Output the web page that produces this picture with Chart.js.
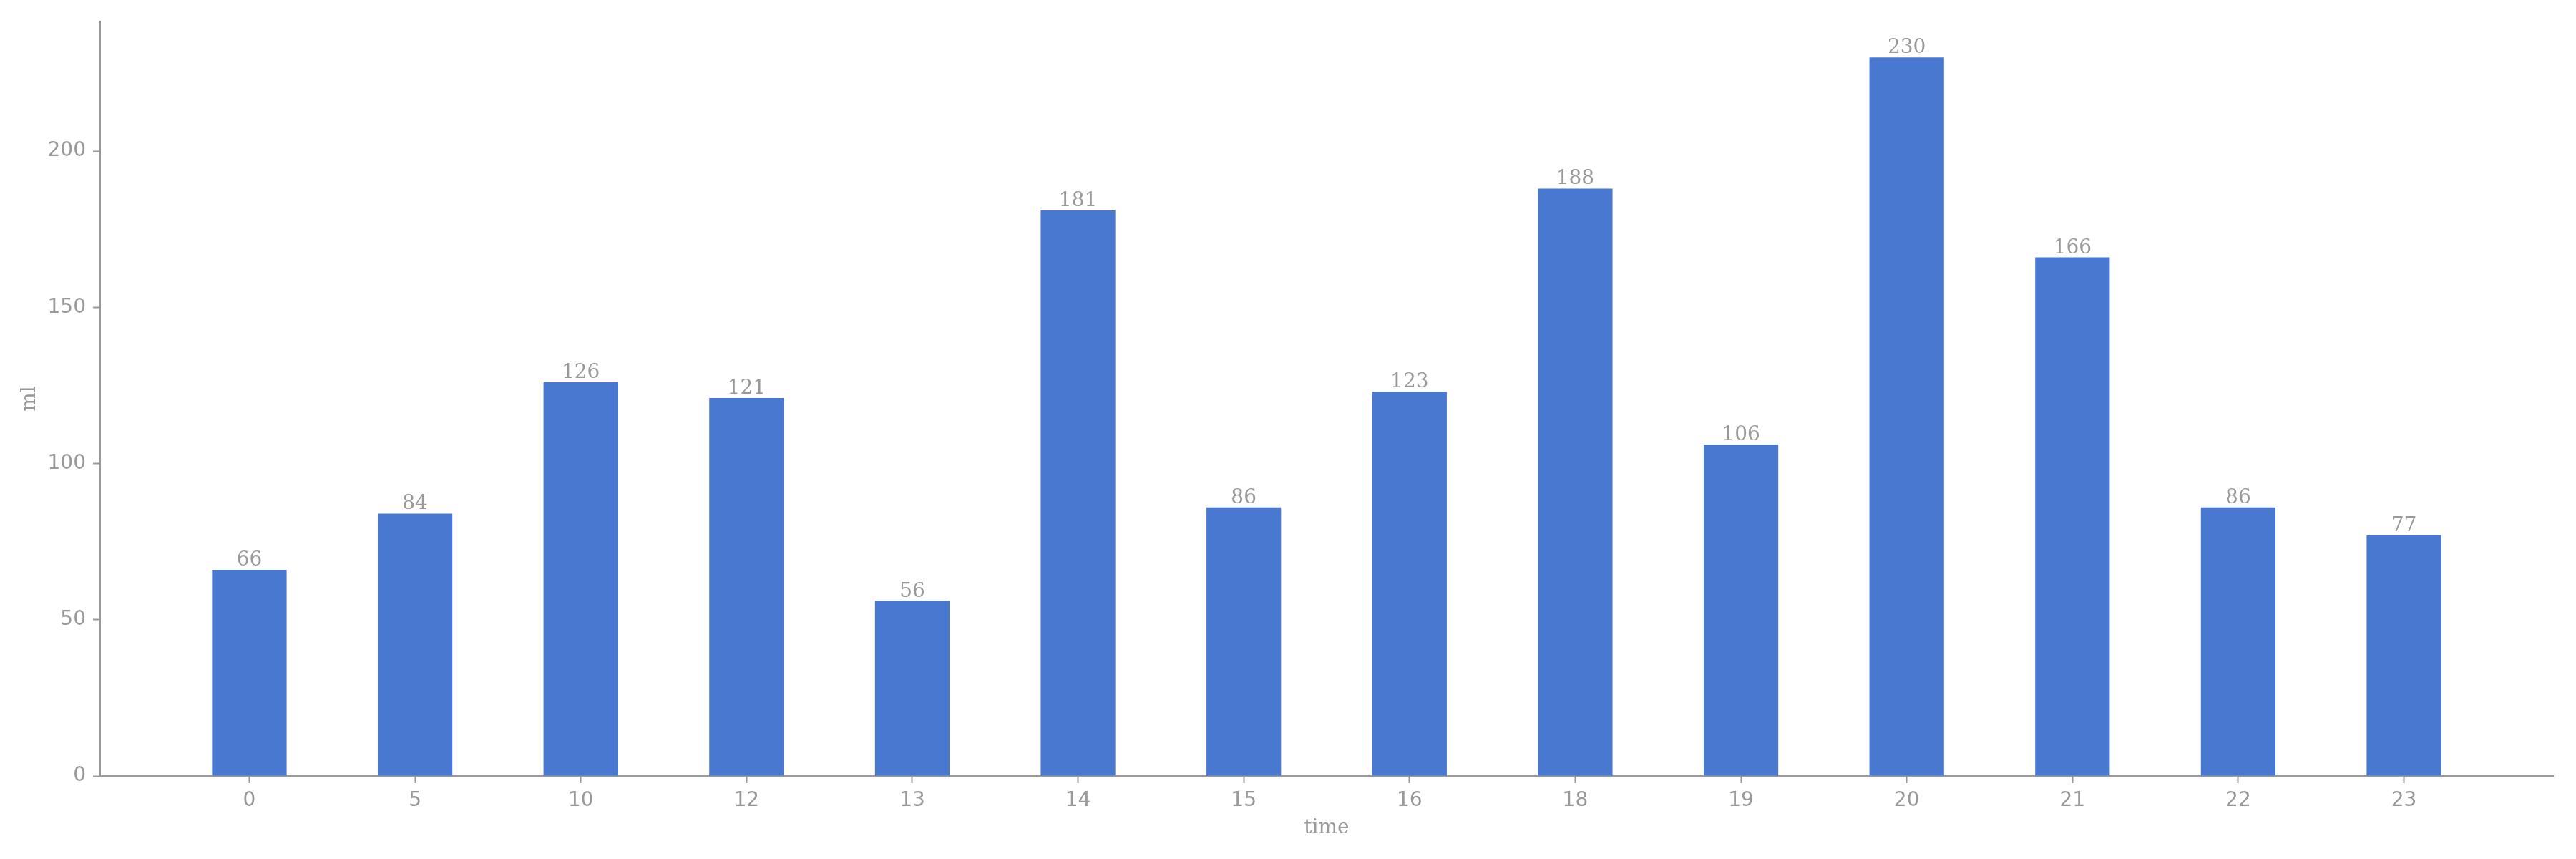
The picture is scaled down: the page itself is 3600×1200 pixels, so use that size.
<!DOCTYPE html>
<html>
<head>
<meta charset="utf-8">
<script src="https://cdn.jsdelivr.net/npm/chart.js@4"></script>
<style>
  html, body { margin: 0; padding: 0; background: #fff; }
  #chart { display: block; }
</style>
</head>
<body>
<canvas id="chart" width="3600" height="1200" style="width:3600px;height:1200px"></canvas>
<script>
// data
const timeLabels = ["0", "5", "10", "12", "13", "14", "15", "16", "18", "19", "20", "21", "22", "23"];
const mlValues = [66, 84, 126, 121, 56, 181, 86, 123, 188, 106, 230, 166, 86, 77];
const yTicks = [0, 50, 100, 150, 200];

const grey = "#999999";
const barColor = "#4878cf";

// values written over the bars
const valueLabels = {
  id: "valueLabels",
  afterDatasetsDraw(chart) {
    const ctx = chart.ctx;
    const meta = chart.getDatasetMeta(0);
    ctx.save();
    ctx.fillStyle = grey;
    ctx.font = "28px 'DejaVu Serif'";
    ctx.textAlign = "center";
    ctx.textBaseline = "alphabetic";
    meta.data.forEach(function (bar, i) {
      ctx.fillText(String(mlValues[i]), bar.x, bar.y - 6);
    });
    ctx.restore();
  }
};

const points = mlValues.map(function (v, i) { return { x: i, y: v }; });

new Chart(document.getElementById("chart"), {
  type: "bar",
  data: {
    datasets: [{
      data: points,
      backgroundColor: barColor,
      borderWidth: 0,
      barPercentage: 0.45,
      categoryPercentage: 1
    }]
  },
  options: {
    responsive: false,
    devicePixelRatio: 1,
    animation: false,
    layout: { padding: { top: 30, right: 32, left: 0, bottom: 0 } },
    plugins: {
      legend: { display: false },
      tooltip: { enabled: false }
    },
    scales: {
      x: {
        type: "linear",
        offset: false,
        min: -0.9,
        max: 13.9,
        afterBuildTicks(scale) {
          scale.ticks = timeLabels.map(function (l, i) { return { value: i }; });
        },
        afterFit(scale) { scale.height = 116; },
        grid: {
          offset: false,
          drawOnChartArea: false,
          drawTicks: true,
          tickLength: 10,
          tickColor: grey,
          tickWidth: 2
        },
        border: { display: true, color: grey, width: 2 },
        ticks: {
          color: grey,
          padding: 8,
          maxRotation: 0,
          autoSkip: false,
          font: { family: "'DejaVu Sans'", size: 28 },
          callback(value) { return timeLabels[value]; }
        },
        title: {
          display: true,
          text: "time",
          color: grey,
          font: { family: "'DejaVu Serif'", size: 28 },
          padding: { top: 0, bottom: 26 }
        }
      },
      y: {
        min: 0,
        max: 241.5,
        afterBuildTicks(scale) {
          scale.ticks = yTicks.map(function (v) { return { value: v }; });
        },
        afterFit(scale) { scale.width = 140; },
        grid: {
          drawOnChartArea: false,
          drawTicks: true,
          tickLength: 10,
          tickColor: grey,
          tickWidth: 2
        },
        border: { display: true, color: grey, width: 2 },
        ticks: {
          color: grey,
          padding: 10,
          font: { family: "'DejaVu Sans'", size: 28 }
        },
        title: {
          display: true,
          text: "ml",
          color: grey,
          font: { family: "'DejaVu Serif'", size: 28 },
          padding: { top: 25, bottom: 0 }
        }
      }
    }
  },
  plugins: [valueLabels]
});
</script>
</body>
</html>
